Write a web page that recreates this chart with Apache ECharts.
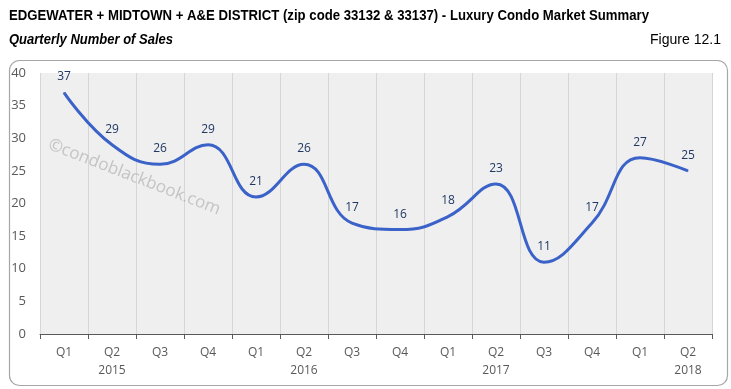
<!DOCTYPE html>
<html><head><meta charset="utf-8">
<script src="https://cdn.jsdelivr.net/npm/echarts@6/dist/echarts.min.js"></script>
<style>html,body{margin:0;padding:0;background:#fff}#c{width:731px;height:389px}</style>
</head><body><div id="c"></div>
<script>
const quarters = ['Q1','Q2','Q3','Q4','Q1','Q2','Q3','Q4','Q1','Q2','Q3','Q4','Q1','Q2'];
const years = ['','2015','','','','2016','','','','2017','','','','2018'];
const sales = [37,29,26,29,21,26,17,16,18,23,11,17,27,25];
const yTicks = {min:0, max:40, interval:5};
const titleText = 'EDGEWATER + MIDTOWN + A&E DISTRICT (zip code 33132 & 33137) - Luxury Condo Market Summary';
const subtitleText = 'Quarterly Number of Sales';
const figureText = 'Figure 12.1';
const watermark = '©condoblackbook.com';

const cats = quarters.map((q,i)=> years[i] ? q+'\n'+years[i] : q);
const ctx = document.createElement('canvas').getContext('2d');
function fitScale(text, font, target){ ctx.font = font; return target / ctx.measureText(text).width; }
const fTitle = 'bold 15px "Liberation Sans", sans-serif';
const fSub = 'italic bold 14px "Liberation Sans", sans-serif';
const fFig = '14px "Liberation Sans", sans-serif';
const sTitle = fitScale(titleText, fTitle, 640);
const sSub = fitScale(subtitleText, fSub, 164);
const sFig = fitScale(figureText, fFig, 71);

const chart = echarts.init(document.getElementById('c'), null, {renderer:'canvas'});
chart.setOption({
  animation:false,
  backgroundColor:'#fff',
  graphic:[
    {type:'rect', left:7, top:58, shape:{width:718, height:325, r:10}, style:{fill:'none', stroke:'#a6a6a6', lineWidth:1.2}, z:-1},
    {type:'text', x:9, y:8, scaleX:sTitle, style:{text:titleText, font:fTitle, fill:'#000', textBaseline:'top'}},
    {type:'text', x:9, y:33, scaleX:sSub, style:{text:subtitleText, font:fSub, fill:'#000', textBaseline:'top'}},
    {type:'text', x:721, y:33, scaleX:sFig, style:{text:figureText, font:fFig, fill:'#000', textAlign:'right', textBaseline:'top'}},
    {type:'text', x:52, y:136, rotation:-0.37, style:{text:watermark, font:'17px "Open Sans", sans-serif', fill:'rgba(160,160,160,0.55)'}, z:10}
  ],
  grid:{left:40, right:19, top:73, bottom:55, show:true, backgroundColor:'#efefef', borderWidth:0},
  xAxis:{
    type:'category', data:cats, boundaryGap:true,
    axisLine:{lineStyle:{color:'#595959', width:1}},
    axisTick:{show:true, length:5, lineStyle:{color:'#595959'}},
    axisLabel:{color:'#595959', fontSize:12, fontFamily:'"Open Sans", sans-serif', lineHeight:18, margin:10},
    splitLine:{show:true, lineStyle:{color:'#d6d6d6', width:1}}
  },
  yAxis:{
    type:'value', min:yTicks.min, max:yTicks.max, interval:yTicks.interval,
    axisLine:{show:false}, axisTick:{show:false},
    axisLabel:{color:'#595959', fontSize:13, fontFamily:'"Open Sans", sans-serif', margin:14},
    splitLine:{show:false}
  },
  series:[{
    type:'line', data:sales, smooth:0.45, symbol:'circle', symbolSize:1, showSymbol:true,
    itemStyle:{color:'#3a62c8'},
    lineStyle:{color:'#3a62c8', width:3},
    label:{show:true, position:'top', distance:9, color:'#1f3864', fontSize:12, fontFamily:'"Open Sans", sans-serif'}
  }]
});
</script></body></html>
